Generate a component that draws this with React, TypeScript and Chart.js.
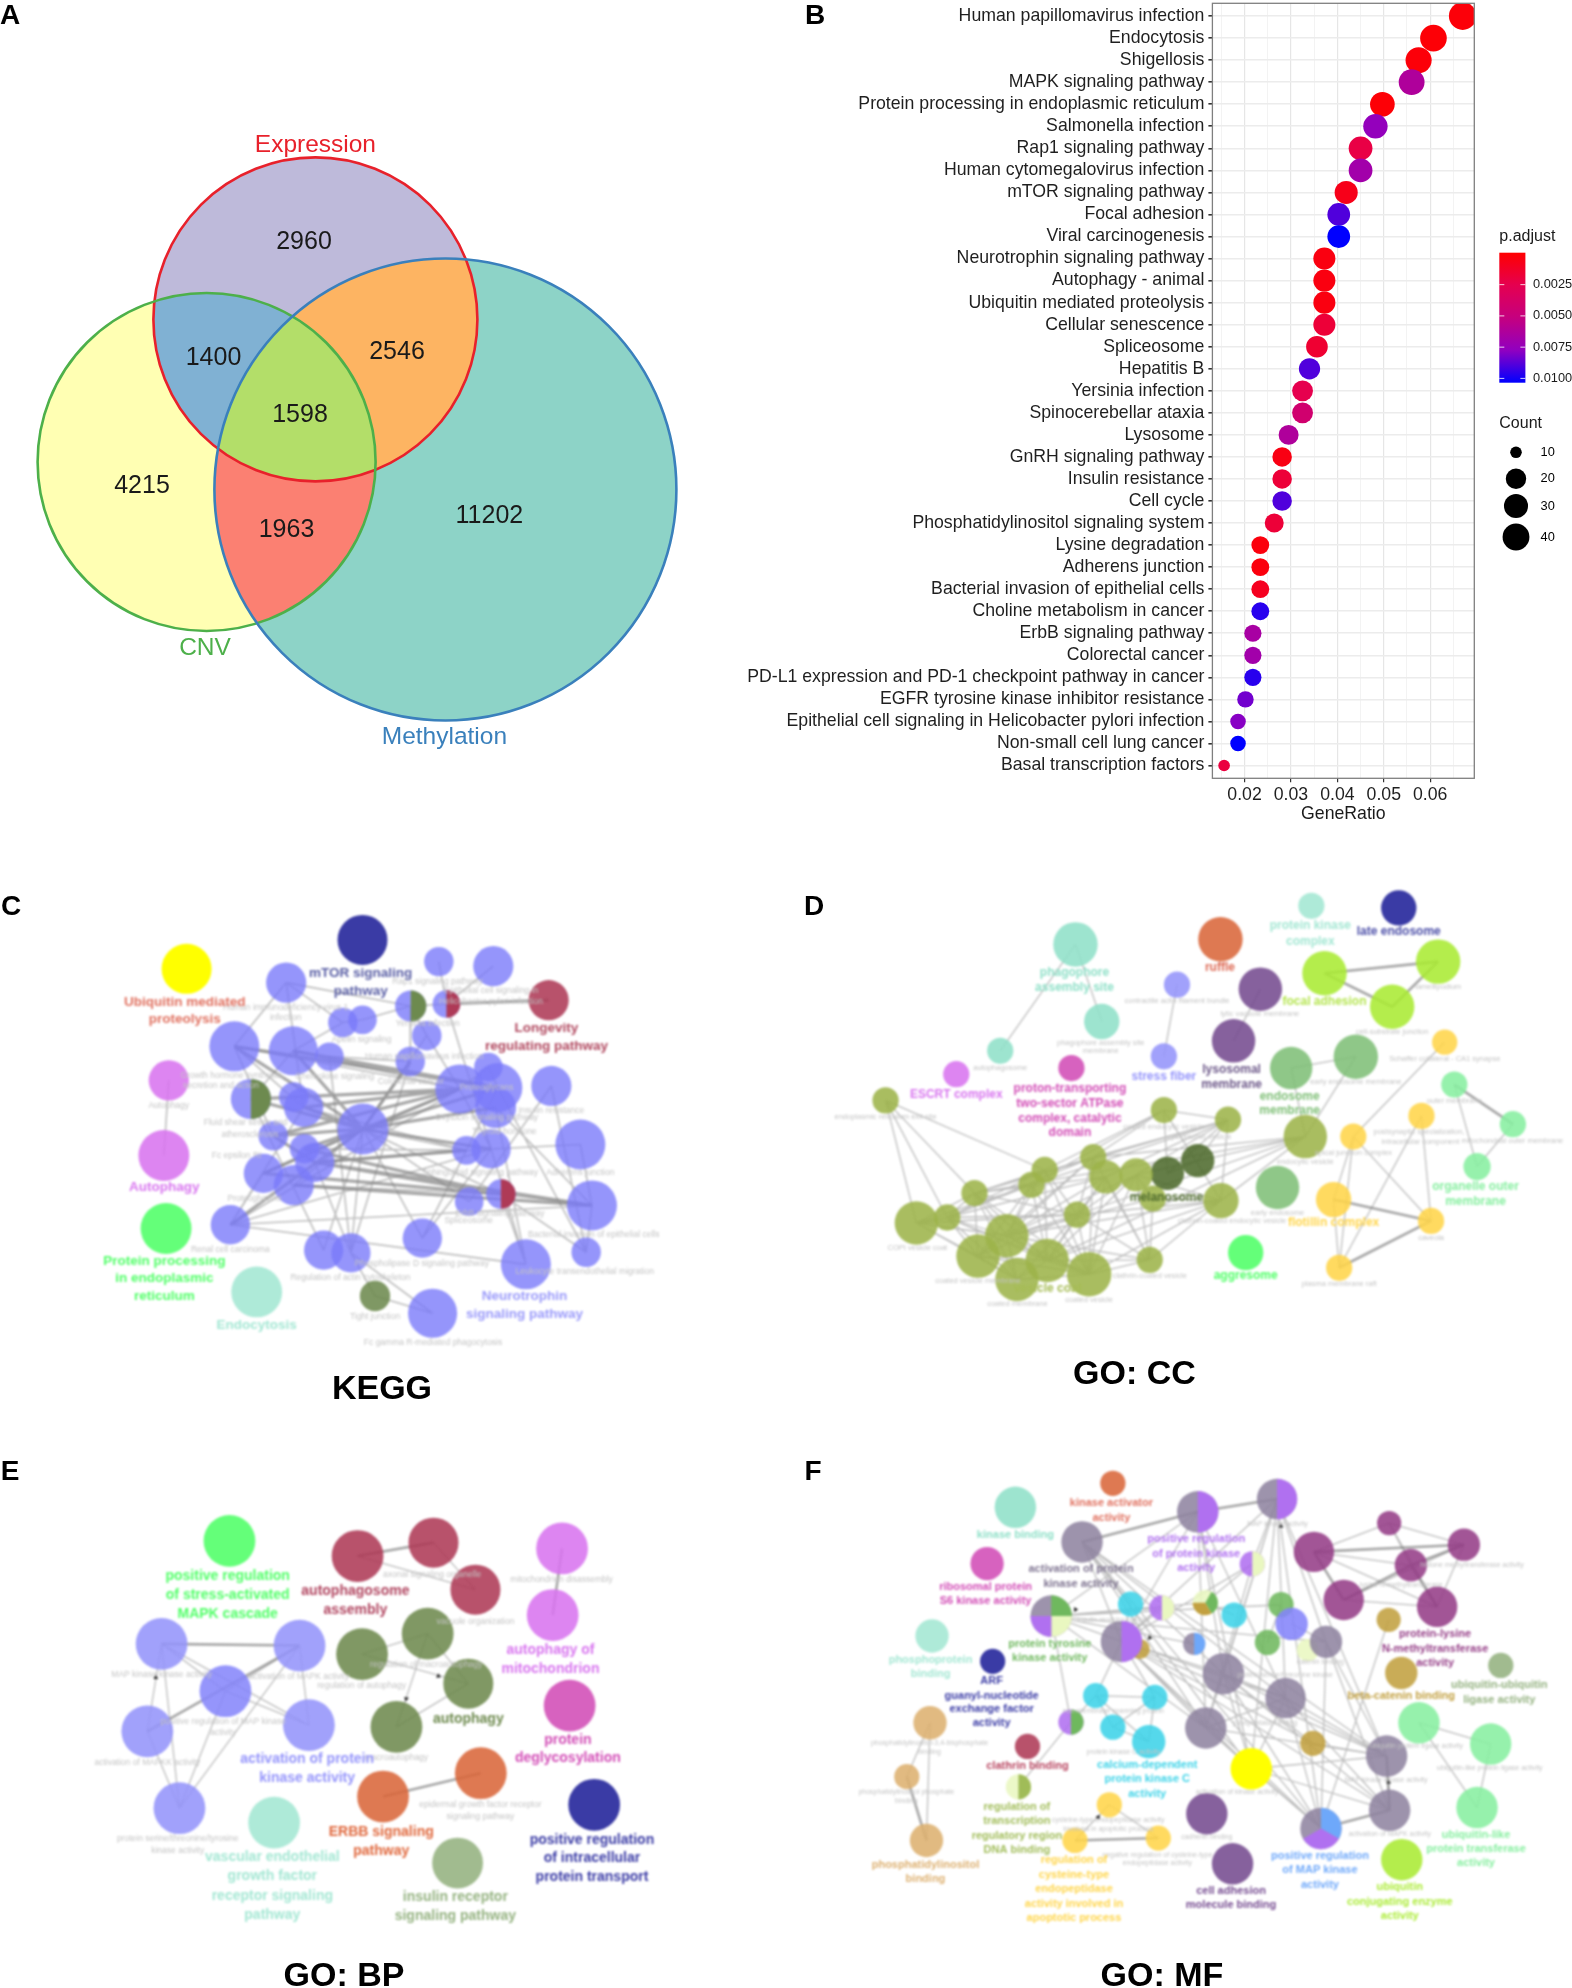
import React, { useEffect, useRef } from "react";
import { Chart, registerables } from "chart.js";

Chart.register(...registerables);

const SANS = '"Liberation Sans", Arial, sans-serif';

/* ---------- Panel A : Venn ---------- */
const vennSets = ["Expression", "CNV", "Methylation"];
const vennX = [315.4, 206.6, 445.4];
const vennY = [319.4, 462, 489.5];
const vennR = [162, 169, 231];
const vennStroke = ["#E8212B", "#4DB04A", "#3A80BC"];
const vennRegionMembers = [[0], [1], [2], [0, 1], [0, 2], [1, 2], [0, 1, 2]];
const vennRegionColors = ["#BEBADA", "#FFFFB3", "#8DD3C7", "#80B1D3", "#FDB462", "#FB8072", "#B3DE69"];
const vennCounts = ["2960", "4215", "11202", "1400", "2546", "1963", "1598"];
const vennCountX = [304, 142, 489.4, 213.5, 397, 286.5, 300];
const vennCountY = [242, 486.5, 516.5, 358.5, 352, 530, 415.5];
const vennNameX = [315.4, 205, 444.4];
const vennNameY = [145, 648, 737.5];

/* ---------- Panel B : dot plot ---------- */
const pathways = [
  "Human papillomavirus infection", "Endocytosis", "Shigellosis", "MAPK signaling pathway",
  "Protein processing in endoplasmic reticulum", "Salmonella infection", "Rap1 signaling pathway",
  "Human cytomegalovirus infection", "mTOR signaling pathway", "Focal adhesion", "Viral carcinogenesis",
  "Neurotrophin signaling pathway", "Autophagy - animal", "Ubiquitin mediated proteolysis",
  "Cellular senescence", "Spliceosome", "Hepatitis B", "Yersinia infection", "Spinocerebellar ataxia",
  "Lysosome", "GnRH signaling pathway", "Insulin resistance", "Cell cycle",
  "Phosphatidylinositol signaling system", "Lysine degradation", "Adherens junction",
  "Bacterial invasion of epithelial cells", "Choline metabolism in cancer", "ErbB signaling pathway",
  "Colorectal cancer", "PD-L1 expression and PD-1 checkpoint pathway in cancer",
  "EGFR tyrosine kinase inhibitor resistance", "Epithelial cell signaling in Helicobacter pylori infection",
  "Non-small cell lung cancer", "Basal transcription factors",
];
const geneRatio = [
  0.067, 0.0607, 0.0575, 0.056, 0.0497, 0.0482, 0.045, 0.045, 0.0419, 0.0403, 0.0403, 0.0372, 0.0372, 0.0372,
  0.0372, 0.0356, 0.034, 0.0325, 0.0325, 0.0295, 0.0281, 0.0281, 0.0281, 0.0264, 0.0234, 0.0234, 0.0234, 0.0234,
  0.0218, 0.0218, 0.0218, 0.0202, 0.0186, 0.0186, 0.0156,
];
const geneCount = [43, 39, 37, 36, 32, 31, 29, 29, 27, 26, 26, 24, 24, 24, 24, 23, 22, 21, 21, 19, 18, 18, 18, 17, 15, 15, 15, 15, 14, 14, 14, 13, 12, 12, 10];
const pAdjust = [
  0.0003, 0.0002, 0.0003, 0.0062, 0.0002, 0.0075, 0.0022, 0.0068, 0.0008, 0.0088, 0.0102, 0.0005, 0.0005, 0.0005,
  0.0018, 0.0016, 0.0088, 0.0025, 0.0042, 0.0062, 0.0006, 0.0018, 0.0088, 0.0018, 0.0004, 0.0004, 0.001, 0.0095,
  0.0065, 0.0068, 0.0095, 0.0082, 0.0078, 0.0102, 0.002,
];
const xMajorTicks = [0.02, 0.03, 0.04, 0.05, 0.06];
const xMinorTicks = [0.015, 0.025, 0.035, 0.045, 0.055, 0.065];
const pLegendTicks = [0.0025, 0.005, 0.0075, 0.01];
const countLegend = [10, 20, 30, 40];
const countLegendY = [452.3, 478.7, 506, 537];
const gradientStops = [[255, 0, 0], [229, 0, 80], [197, 0, 127], [145, 0, 192], [0, 0, 255]];

/* ---------- Network panels : layout units are 0..1568 on both axes ---------- */
type Node = [number, number, number, string];
const P = "#7A7AFA";

const cNodes: Node[] = [
  [418, 258, 56, "#FFFF00"], [812, 174, 56, "#3A3BA5"], [641, 298, 45, P], [983, 237, 33, P], [1105, 250, 45, P],
  [920, 366, 35, P], [1000, 360, 31, P], [1229, 349, 45, "#AE3A57"], [768, 414, 33, P], [812, 406, 32, P],
  [525, 483, 56, P], [657, 496, 55, P], [738, 513, 32, P], [956, 452, 33, P], [919, 527, 33, P],
  [1094, 543, 32, P], [1115, 603, 55, P], [1030, 607, 55, P], [1110, 661, 46, P], [1235, 598, 45, P],
  [378, 582, 45, "#D874EF"], [367, 800, 57, "#D874EF"], [562, 636, 45, P], [658, 630, 33, P], [680, 660, 44, P],
  [612, 743, 33, P], [813, 723, 57, P], [682, 780, 33, P], [705, 820, 44, P], [590, 852, 44, P],
  [658, 886, 45, P], [1045, 785, 32, P], [1100, 781, 44, P], [1300, 768, 56, P], [1122, 912, 33, P],
  [1051, 934, 32, P], [1326, 945, 56, P], [516, 1001, 44, P], [946, 1040, 44, P], [725, 1075, 44, P],
  [786, 1083, 44, P], [1178, 1116, 56, P], [1313, 1081, 33, P], [372, 1012, 57, "#4FFF66"], [575, 1196, 57, "#A3E7D3"],
  [840, 1208, 34, "#6D8A4F"], [969, 1258, 55, P],
];
const cEdgesThin = "20-21 2-5 2-10 2-24 5-14 5-13 5-6 3-6 4-6 10-24 10-25 11-22 13-26 26-38 26-39 26-40 26-34 26-35 26-31 26-30 30-34 37-36 37-17 37-41 37-32 37-29 37-24 38-32 38-16 39-22 40-45 40-28 40-46 45-46 40-14 40-12 33-32 33-36 36-34 36-42 36-18 42-34 42-19 41-34 41-18 38-31 32-17 17-29 28-32 27-31 24-31 11-17 8-11 8-9 9-5 12-14 10-17 15-17 15-16 16-42 19-35 6-32 41-32 2-8 13-17";
const cEdgesThick = "6-7 10-26 11-26 22-26 24-26 25-26 27-26 26-17 26-16 26-18 14-26 28-34 26-32 37-26 29-26 25-28 10-16 11-16 22-17 25-17 24-17 28-31 29-34 28-36 30-36 27-34";
const cPies: [number, number, number, string][] = [
  [5, -90, 90, "#6D8A4F"], [6, -90, 90, "#AE3A57"], [22, -90, 90, "#6D8A4F"], [34, -90, 90, "#AE3A57"],
];
const cBold: [string, number, number, string][] = [
  ["Ubiquitin mediated", 414, 354, "#E0705F"], ["proteolysis", 414, 405, "#E0705F"],
  ["mTOR signaling", 808, 270, "#5A5FA5"], ["pathway", 808, 322, "#5A5FA5"],
  ["Longevity", 1224, 432, "#B0485F"], ["regulating pathway", 1224, 484, "#B0485F"],
  ["Autophagy", 368, 893, "#D874EF"],
  ["Protein processing", 368, 1106, "#4FFF66"], ["in endoplasmic", 368, 1157, "#4FFF66"], ["reticulum", 368, 1208, "#4FFF66"],
  ["Endocytosis", 575, 1292, "#A3E7D3"],
  ["Neurotrophin", 1175, 1210, "#9A9AFA"], ["signaling pathway", 1175, 1262, "#9A9AFA"],
];
const cFaint: [string, number, number][] = [
  ["Rap1 signaling pathway", 980, 296], ["Epithelial cell signaling in", 1100, 322], ["Helicobacter pylori infection", 1100, 352],
  ["Human immunodeficiency virus 1", 640, 370], ["infection", 640, 400], ["Yersinia infection", 958, 418],
  ["Apelin signaling", 810, 465], ["Human papillomavirus infection", 950, 512],
  ["Growth hormone synthesis,", 520, 568], ["secretion and action", 495, 598], ["Chemokine signaling", 750, 570],
  ["Colorectal cancer", 920, 586], ["Proteoglycans", 1090, 602], ["Autophagy", 378, 654], ["Insulin resistance", 1235, 670],
  ["Oxytocin signaling pathway", 1090, 690], ["Fluid shear stress and", 550, 705], ["atherosclerosis", 560, 738],
  ["Fc epsilon RI", 530, 800], ["Thyroid hormone", 1130, 730], ["Adherens junction", 1300, 850], ["Sphingolipid signaling pathway", 1075, 850],
  ["Proteoglycans", 570, 925], ["ErbB signaling pathway", 1120, 970], ["Spliceosome", 1050, 990],
  ["Bacterial invasion of epithelial cells", 1330, 1030], ["Renal cell carcinoma", 516, 1072],
  ["Phospholipase D signaling pathway", 945, 1113], ["Regulation of actin cytoskeleton", 785, 1156],
  ["Leukocyte transendothelial migration", 1310, 1137], ["Tight junction", 840, 1267], ["Fc gamma R-mediated phagocytosis", 970, 1344],
];

const OL = "#9DB44A";
const dNodes: Node[] = [
  [585, 187, 44, "#8FE0C8"], [637, 411, 35, "#8FE0C8"], [436, 496, 26, "#8FE0C8"], [872, 172, 44, "#D9663A"],
  [1052, 75, 26, "#A3E7D3"], [1225, 81, 35, "#3A3BA5"], [786, 304, 26, "#9494FB"], [760, 512, 26, "#9494FB"],
  [951, 317, 43, "#754B90"], [898, 467, 43, "#754B90"], [1078, 271, 44, "#AAEB33"], [1303, 237, 44, "#AAEB33"],
  [1212, 368, 44, "#AAEB33"], [1012, 546, 42, "#7FBF77"], [1140, 513, 44, "#7FBF77"], [985, 893, 43, "#7FBF77"],
  [1316, 471, 25, "#FFD54A"], [1135, 745, 26, "#FFD54A"], [1270, 685, 26, "#FFD54A"], [1096, 928, 35, "#FFD54A"],
  [1289, 990, 26, "#FFD54A"], [1107, 1126, 26, "#FFD54A"], [1335, 594, 26, "#87EFA0"], [1451, 709, 26, "#87EFA0"],
  [1380, 832, 27, "#87EFA0"], [349, 564, 26, "#D874EF"], [577, 546, 26, "#D24CB6"], [209, 640, 26, OL],
  [760, 668, 26, OL], [887, 696, 26, OL], [1040, 745, 43, OL], [767, 852, 33, "#4F6B2E"], [827, 815, 33, "#4F6B2E"],
  [620, 805, 26, OL], [524, 842, 26, OL], [645, 862, 33, OL], [705, 856, 33, OL], [498, 885, 26, OL], [385, 909, 26, OL],
  [738, 925, 26, OL], [873, 931, 35, OL], [588, 972, 26, OL], [331, 980, 26, OL], [270, 996, 43, OL], [449, 1033, 43, OL],
  [392, 1092, 43, OL], [529, 1105, 43, OL], [469, 1160, 43, OL], [612, 1145, 44, OL], [732, 1103, 26, OL],
  [922, 1082, 35, "#4FFF66"],
];
const dEdgesThin = "0-1 0-2 6-7 8-9 13-14 13-30 14-30 16-17 17-19 17-20 17-21 18-20 18-21 19-21 22-24 23-24 27-34 27-38 27-42 27-43 28-29 28-33 28-34 28-37 28-31 28-40 29-33 29-35 29-36 29-37 29-38 29-31 29-32 29-40 30-33 30-36 30-38 30-40 30-41 30-46 33-38 33-42 33-44 33-45 33-48 33-49 34-38 34-42 34-44 34-46 34-48 35-38 35-42 35-44 35-46 35-48 35-49 36-40 36-41 36-44 36-46 36-48 36-49 37-38 37-42 37-43 37-44 37-45 37-46 37-48 38-41 38-42 38-43 38-44 38-45 38-46 38-47 38-48 39-40 39-49 39-44 40-41 40-44 40-46 40-48 40-49 41-42 41-43 41-44 41-45 41-46 41-47 41-48 41-49 42-43 42-44 42-45 42-46 42-47 42-48 43-44 43-45 43-47 44-45 44-46 44-47 44-48 44-49 45-46 45-47 45-48 46-47 46-48 46-49 47-48 48-49 33-41 34-41 35-41 36-39 31-32";
const dEdgesThick = "10-11 10-12 11-12 19-20 20-21 22-23";
const dBold: [string, number, number, string][] = [
  ["phagophore", 583, 269, "#8FE0C8"], ["assembly site", 583, 313, "#8FE0C8"], ["ruffle", 871, 255, "#DD6A55"],
  ["protein kinase", 1050, 134, "#A3E7D3"], ["complex", 1050, 178, "#A3E7D3"], ["late endosome", 1225, 150, "#4C4FA8"],
  ["focal adhesion", 1078, 353, "#B5E550"], ["lysosomal", 894, 550, "#6E5A8A"], ["membrane", 894, 595, "#6E5A8A"],
  ["stress fiber", 760, 571, "#9494FB"], ["ESCRT complex", 349, 623, "#D874EF"],
  ["proton-transporting", 574, 606, "#D24CB6"], ["two-sector ATPase", 574, 649, "#D24CB6"],
  ["complex, catalytic", 574, 692, "#D24CB6"], ["domain", 574, 735, "#D24CB6"],
  ["endosome", 1009, 628, "#7FBF77"], ["membrane", 1009, 671, "#7FBF77"],
  ["organelle outer", 1377, 891, "#87EFA0"], ["membrane", 1377, 933, "#87EFA0"],
  ["flotillin complex", 1096, 996, "#FFD54A"], ["aggresome", 922, 1150, "#4FFF66"],
  ["vesicle coat", 530, 1188, "#A6BC55"], ["melanosome", 765, 923, "#4F6B2E"],
];
const dFaint: [string, number, number][] = [
  ["autophagosome", 436, 545], ["phagophore assembly site", 635, 472], ["membrane", 635, 497],
  ["contractile actin filament bundle", 786, 352], ["lytic vacuole membrane", 950, 389], ["cell-substrate junction", 1212, 441],
  ["lamellipodium", 1303, 310], ["Schaffer collateral - CA1 synapse", 1316, 520], ["early endosome membrane", 1140, 586],
  ["outer membrane", 1335, 642], ["mitochondrial outer membrane", 1450, 758], ["postsynaptic specialization,", 1265, 733],
  ["intracellular component", 1268, 760], ["endoplasmic reticulum exit site", 209, 689], ["apical junction complex", 1135, 793],
  ["endocytic vesicle", 1040, 818], ["clathrin-coated endocytic vesicle", 895, 990], ["early endosome", 985, 967],
  ["caveola", 1289, 1040], ["plasma membrane raft", 1107, 1173], ["coated vesicle membrane", 392, 1164],
  ["coated membrane", 470, 1230], ["coated vesicle", 612, 1218], ["clathrin-coated vesicle", 732, 1151],
  ["COPI vesicle coat", 272, 1068], ["coated endocytic vesicle", 760, 718], ["cytoplasmic vesicle", 830, 745],
];

const eNodes: Node[] = [
  [514, 265, 58, "#4FFF66"], [801, 309, 58, "#AE3A57"], [971, 270, 56, "#AE3A57"], [1065, 407, 56, "#AE3A57"],
  [1259, 287, 58, "#D874EF"], [1238, 481, 58, "#D874EF"], [362, 565, 58, "#9494FB"], [671, 570, 58, "#9494FB"],
  [505, 703, 58, "#8686FA"], [330, 820, 58, "#9494FB"], [692, 802, 58, "#9494FB"], [402, 1044, 58, "#9494FB"],
  [811, 595, 58, "#6E8A4F"], [958, 535, 58, "#6E8A4F"], [1049, 681, 56, "#6E8A4F"], [888, 807, 58, "#6E8A4F"],
  [1276, 745, 58, "#D24CB6"], [1077, 942, 58, "#D9663A"], [858, 1010, 58, "#D9663A"], [1331, 1034, 58, "#3A3BA5"],
  [614, 1086, 58, "#A3E7D3"], [1025, 1204, 57, "#94B280"],
];
const eEdgesThin = "1-3 2-3 6-8 6-10 6-9 6-11 7-8 7-11 8-10 8-11 9-11 12-14 13-15 13-14 12-13 14-15 7-10";
const eEdgesThick = "1-2 4-5 6-7 7-9 17-18";
const eArrowX = [349, 982, 910];
const eArrowY = [663, 659, 725];
const eArrowAngle = [0, 115, 190];
const eBold: [string, number, number, string][] = [
  ["positive regulation", 510, 368, "#4FFF66"], ["of stress-activated", 510, 423, "#4FFF66"], ["MAPK cascade", 510, 478, "#4FFF66"],
  ["autophagosome", 796, 411, "#B0445F"], ["assembly", 796, 467, "#B0445F"],
  ["autophagy of", 1233, 584, "#D874EF"], ["mitochondrion", 1233, 639, "#D874EF"], ["autophagy", 1049, 783, "#6E8A4F"],
  ["protein", 1272, 845, "#D24CB6"], ["deglycosylation", 1272, 899, "#D24CB6"],
  ["activation of protein", 688, 902, "#9494FB"], ["kinase activity", 688, 957, "#9494FB"],
  ["ERBB signaling", 854, 1113, "#E0683D"], ["pathway", 854, 1168, "#E0683D"],
  ["positive regulation", 1326, 1138, "#3A3BA5"], ["of intracellular", 1326, 1190, "#3A3BA5"], ["protein transport", 1326, 1246, "#3A3BA5"],
  ["vascular endothelial", 610, 1188, "#A3E7D3"], ["growth factor", 610, 1243, "#A3E7D3"], ["receptor signaling", 610, 1299, "#A3E7D3"], ["pathway", 610, 1355, "#A3E7D3"],
  ["insulin receptor", 1020, 1304, "#94B280"], ["signaling pathway", 1020, 1360, "#94B280"],
];
const eFaint: [string, number, number][] = [
  ["mitochondrion disassembly", 1258, 379], ["axonal signaling organelle", 968, 362], ["vacuole organization", 1065, 499],
  ["MAP kinase kinase activity", 362, 655], ["activation of MAPK activity", 670, 662], ["regulation of autophagy", 810, 688],
  ["regulation of macroautophagy", 955, 625], ["positive regulation of MAP kinase", 500, 792], ["activity", 500, 825],
  ["macroautophagy", 888, 897], ["activation of MAPKK activity", 330, 911],
  ["epidermal growth factor receptor", 1076, 1034], ["signaling pathway", 1076, 1068],
  ["protein serine/threonine/tyrosine", 398, 1133], ["kinase activity", 398, 1167],
];

const GR = "#8F84A0";
const PL = "#953E87";
const CY = "#3DD3E8";
const fNodes: Node[] = [
  [466, 167, 41, "#8FE0C8"], [659, 97, 25, "#D9663A"], [410, 331, 33, "#D24CB6"], [301, 542, 33, "#A3E7D3"], [421, 616, 25, "#3A3BA5"],
  [827, 180, 41, GR], [984, 143, 40, GR], [598, 268, 41, GR], [935, 332, 25, "#B070F0"], [1057, 297, 40, PL],
  [1206, 213, 24, PL], [1354, 276, 32, PL], [1249, 336, 32, PL], [1116, 437, 40, PL], [1301, 457, 40, PL],
  [1205, 495, 24, "#C2A040"], [537, 484, 41, GR], [694, 449, 25, CY], [756, 460, 25, "#B070F0"], [842, 445, 25, "#E9F7C0"],
  [899, 481, 25, CY], [992, 451, 25, "#6FB85E"], [1013, 507, 32, "#8484FB"], [712, 580, 20, "#C2A040"], [676, 558, 41, GR],
  [820, 565, 22, GR], [965, 561, 25, "#6FB85E"], [1045, 583, 22, "#E9F7C0"], [1081, 559, 32, GR], [878, 652, 41, GR],
  [1001, 723, 40, GR], [1230, 650, 32, "#C2A040"], [1427, 628, 25, "#94B280"], [625, 716, 25, CY], [742, 721, 25, CY],
  [659, 808, 25, CY], [730, 850, 33, CY], [576, 793, 25, "#B070F0"], [297, 795, 33, "#DDB070"], [251, 952, 25, "#DDB070"],
  [290, 1138, 33, "#DDB070"], [490, 864, 25, "#AE3A57"], [472, 982, 25, "#E9F7C0"], [843, 810, 41, GR], [1055, 855, 25, "#C2A040"],
  [933, 929, 41, "#FFFF00"], [1201, 892, 41, GR], [1265, 795, 41, "#87EFA0"], [1407, 857, 41, "#87EFA0"], [1380, 1042, 41, "#87EFA0"],
  [1207, 1050, 41, GR], [1071, 1103, 41, GR], [845, 1060, 41, "#754B90"], [896, 1206, 41, "#754B90"], [1231, 1194, 41, "#AAEB33"],
  [652, 1034, 25, "#FFD54A"], [584, 1138, 25, "#FFD54A"], [749, 1131, 25, "#FFD54A"],
];
const fEdgesThin = "7-24 7-29 7-43 7-30 7-45 7-46 7-17 7-51 5-16 5-24 5-29 5-30 5-43 5-45 6-24 6-29 6-30 6-43 6-45 6-28 6-51 6-46 6-8 24-45 24-51 24-29 24-43 24-30 24-46 24-50 29-30 29-43 29-45 29-46 29-50 29-51 30-43 30-45 30-46 30-50 30-51 43-45 43-46 43-51 45-46 45-51 45-50 46-50 28-51 28-46 28-50 16-24 16-18 16-43 16-28 37-16 37-42 18-24 17-24 19-16 19-20 8-24 8-19 8-43 33-34 33-35 33-36 34-35 34-36 35-36 33-24 34-24 10-9 10-11 10-12 10-14 9-12 9-14 11-13 11-14 13-14 38-39 38-40 47-48 47-49 48-49 55-56 55-57 15-51 44-24 44-29 44-46 22-28 21-26 16-21 16-25 37-33 42-37";
const fEdgesThick = "5-7 5-6 50-51 46-50 9-11 9-13 11-12 12-13 12-14 39-40 56-57";
const fPies: [number, number, number, string][] = [
  [5, -90, 90, "#B070F0"], [6, -90, 90, "#B070F0"], [8, -90, 90, "#E9F7C0"], [16, -90, 0, "#6FB85E"], [16, 0, 90, "#E9F7C0"], [16, 90, 180, "#B070F0"],
  [18, -90, 90, "#E9F7C0"], [19, -60, 60, "#6FB85E"], [19, 60, 180, "#C2A040"], [24, -90, 90, "#B070F0"], [25, -90, 90, "#6EA8FA"],
  [37, -90, 90, "#6FB85E"], [42, -90, 90, "#A0BC58"], [51, -90, 30, "#6EA8FA"], [51, 30, 150, "#B070F0"],
];
const fBold: [string, number, number, string][] = [
  ["kinase binding", 466, 248, "#8FE0C8"], ["kinase activator", 656, 155, "#E0705F"], ["activity", 656, 198, "#E0705F"],
  ["ribosomal protein", 407, 400, "#D24CB6"], ["S6 kinase activity", 407, 441, "#D24CB6"],
  ["phosphoprotein", 298, 611, "#A3E7D3"], ["binding", 298, 653, "#A3E7D3"],
  ["ARF", 419, 672, "#3A3BA5"], ["guanyl-nucleotide", 419, 716, "#3A3BA5"], ["exchange factor", 419, 754, "#3A3BA5"], ["activity", 419, 796, "#3A3BA5"],
  ["activation of protein", 596, 348, "#7E7390"], ["kinase activity", 596, 390, "#7E7390"],
  ["positive regulation", 824, 260, "#B070F0"], ["of protein kinase", 824, 302, "#B070F0"], ["activity", 824, 344, "#B070F0"],
  ["protein tyrosine", 534, 564, "#6FB85E"], ["kinase activity", 534, 606, "#6FB85E"],
  ["protein-lysine", 1297, 537, "#953E87"], ["N-methyltransferase", 1297, 579, "#953E87"], ["activity", 1297, 621, "#953E87"],
  ["ubiquitin-ubiquitin", 1424, 686, "#94B280"], ["ligase activity", 1424, 728, "#94B280"], ["beta-catenin binding", 1230, 718, "#C2A040"],
  ["clathrin binding", 490, 922, "#B84560"], ["calcium-dependent", 727, 918, CY], ["protein kinase C", 727, 960, CY], ["activity", 727, 1002, CY],
  ["regulation of", 469, 1040, "#A0BC58"], ["transcription", 469, 1081, "#A0BC58"], ["regulatory region", 469, 1124, "#A0BC58"], ["DNA binding", 469, 1165, "#A0BC58"],
  ["phosphatidylinositol", 288, 1208, "#DDB070"], ["binding", 288, 1250, "#DDB070"],
  ["regulation of", 582, 1196, "#FFD54A"], ["cysteine-type", 582, 1238, "#FFD54A"], ["endopeptidase", 582, 1280, "#FFD54A"], ["activity involved in", 582, 1322, "#FFD54A"], ["apoptotic process", 582, 1364, "#FFD54A"],
  ["cell adhesion", 893, 1285, "#754B90"], ["molecule binding", 893, 1327, "#754B90"],
  ["positive regulation", 1069, 1182, "#6EA8FA"], ["of MAP kinase", 1069, 1224, "#6EA8FA"], ["activity", 1069, 1267, "#6EA8FA"],
  ["ubiquitin", 1227, 1275, "#AAEB33"], ["conjugating enzyme", 1227, 1318, "#AAEB33"], ["activity", 1227, 1359, "#AAEB33"],
  ["ubiquitin-like", 1378, 1121, "#87EFA0"], ["protein transferase", 1378, 1163, "#87EFA0"], ["activity", 1378, 1205, "#87EFA0"],
];
const fFaint: [string, number, number][] = [
  ["phosphatidylinositol-3,4-bisphosphate", 296, 855], ["binding", 296, 880], ["phosphatidylinositol phosphate", 250, 998], ["binding", 250, 1024],
  ["cysteine-type endopeptidase activity", 650, 1080], ["involved in apoptotic process", 650, 1105],
  ["negative regulation of cysteine-type", 747, 1180], ["endopeptidase activity", 747, 1204], ["cadherin binding", 845, 1128],
  ["activation of MAPK activity", 1207, 1120], ["MAP kinase activity", 985, 215], ["histone methyltransferase activity", 1370, 336],
  ["ubiquitin-like protein ligase activity", 1405, 928], ["ubiquitin protein ligase activity", 1260, 862], ["MAP kinase kinase activity", 1200, 963],
  ["activation of kinase activity", 905, 997], ["insulin receptor binding", 660, 495], ["non-membrane spanning protein", 660, 760],
  ["protein kinase C activity", 680, 880], ["lysine N-methyltransferase", 1230, 395], ["catenin binding", 1070, 618],
  ["phosphatase binding", 960, 795], ["protein serine/threonine kinase", 1000, 655],
];

const arrowF = { x: [585, 992, 732, 1205, 630], y: [465, 222, 547, 968, 1070], a: [90, 0, 225, 0, 35] };

/* ---------- helpers ---------- */
const edgePoints = (nodes: Node[], list: string) => {
  const pts: { x: number; y: number }[] = [];
  list.split(" ").forEach((pair) => {
    const [a, b] = pair.split("-").map(Number);
    pts.push({ x: nodes[a][0], y: nodes[a][1] }, { x: nodes[b][0], y: nodes[b][1] }, { x: NaN, y: NaN });
  });
  return pts;
};

const lerpColor = (t: number) => {
  const c = Math.max(0, Math.min(1, t)) * (gradientStops.length - 1);
  const i = Math.min(gradientStops.length - 2, Math.floor(c));
  const f = c - i;
  const m = gradientStops[i].map((v, k) => Math.round(v + (gradientStops[i + 1][k] - v) * f));
  return `rgb(${m[0]},${m[1]},${m[2]})`;
};
const pColor = (p: number) => lerpColor(p / 0.0102);
const countRadius = (c: number) => 5.8 + 8 * Math.sqrt((c - 10) / 33);

function withAlpha(hex: string, a: number) {
  const n = parseInt(hex.slice(1), 16);
  return `rgba(${(n >> 16) & 255},${(n >> 8) & 255},${n & 255},${a})`;
}

const noAutoLayout = { autoPadding: false, padding: 0 };

/* ---------- chart configs ---------- */
function vennConfig() {
  const regionPlugin = {
    id: "vennRegions",
    beforeDatasetsDraw(chart: any) {
      const { ctx } = chart;
      const els = chart.getDatasetMeta(0).data;
      vennRegionMembers.forEach((members, i) => {
        ctx.save();
        for (let k = 0; k < members.length - 1; k++) {
          const e = els[members[k]];
          ctx.beginPath();
          ctx.arc(e.x, e.y, e.options.radius, 0, Math.PI * 2);
          ctx.clip();
        }
        const e = els[members[members.length - 1]];
        ctx.beginPath();
        ctx.arc(e.x, e.y, e.options.radius, 0, Math.PI * 2);
        ctx.fillStyle = vennRegionColors[i];
        ctx.fill();
        ctx.restore();
      });
    },
    afterDatasetsDraw(chart: any) {
      const { ctx, scales } = chart;
      ctx.save();
      ctx.textAlign = "center";
      ctx.textBaseline = "middle";
      ctx.fillStyle = "#1a1a1a";
      ctx.font = `25px ${SANS}`;
      vennCounts.forEach((t, i) => {
        ctx.fillText(t, scales.x.getPixelForValue(vennCountX[i]), scales.y.getPixelForValue(vennCountY[i]));
      });
      ctx.font = `24.5px ${SANS}`;
      vennSets.forEach((t, i) => {
        ctx.fillStyle = vennStroke[i];
        ctx.fillText(t, scales.x.getPixelForValue(vennNameX[i]), scales.y.getPixelForValue(vennNameY[i]));
      });
      ctx.restore();
    },
  };
  return {
    type: "bubble",
    data: {
      datasets: [
        {
          data: vennX.map((x, i) => ({ x, y: vennY[i], r: vennR[i] })),
          backgroundColor: "rgba(0,0,0,0)",
          borderColor: vennStroke,
          borderWidth: 2.6,
          clip: false,
        },
      ],
    },
    options: {
      animation: false,
      responsive: false,
      layout: noAutoLayout,
      plugins: { legend: { display: false }, tooltip: { enabled: false } },
      scales: {
        x: { type: "linear", min: 0, max: 720, display: false },
        y: { type: "linear", min: 0, max: 800, reverse: true, display: false },
      },
    },
    plugins: [regionPlugin],
  };
}

function dotConfig() {
  const isMajor = (v: number) => xMajorTicks.some((m) => Math.abs(m - v) < 1e-6);
  const legendPlugin = {
    id: "dotLegend",
    afterDatasetsDraw(chart: any) {
      const { ctx, chartArea: a } = chart;
      ctx.save();
      ctx.strokeStyle = "#7f7f7f";
      ctx.lineWidth = 1.3;
      ctx.strokeRect(a.left, a.top, a.right - a.left, a.bottom - a.top);
      const ox = 720;
      // colour bar
      const left = 1499.3 - ox, w = 26.1, top = 252.7, h = 130;
      const g = ctx.createLinearGradient(0, top, 0, top + h);
      gradientStops.forEach((_, i) => g.addColorStop(i / (gradientStops.length - 1), lerpColor(i / (gradientStops.length - 1))));
      ctx.fillStyle = g;
      ctx.fillRect(left, top, w, h);
      ctx.textAlign = "left";
      ctx.textBaseline = "middle";
      ctx.fillStyle = "#1a1a1a";
      ctx.font = `16px ${SANS}`;
      ctx.fillText("p.adjust", left, 237);
      ctx.fillText("Count", left, 424);
      ctx.font = `12.8px ${SANS}`;
      pLegendTicks.forEach((p) => {
        const y = top + (p / 0.0104) * h + 0.7;
        ctx.strokeStyle = "rgba(255,255,255,.8)";
        ctx.lineWidth = 1;
        ctx.beginPath();
        ctx.moveTo(left, y);
        ctx.lineTo(left + 5, y);
        ctx.moveTo(left + w - 5, y);
        ctx.lineTo(left + w, y);
        ctx.stroke();
        ctx.fillStyle = "#1a1a1a";
        ctx.fillText(p.toFixed(4), 1533 - ox, y);
      });
      countLegend.forEach((c, i) => {
        ctx.fillStyle = "#000";
        ctx.beginPath();
        ctx.arc(1516 - ox, countLegendY[i], countRadius(c), 0, Math.PI * 2);
        ctx.fill();
        ctx.fillText(String(c), 1540.6 - ox, countLegendY[i]);
      });
      ctx.restore();
    },
  };
  return {
    type: "bubble",
    data: {
      datasets: [
        {
          data: geneRatio.map((x, i) => ({ x, y: i, r: countRadius(geneCount[i]) })),
          backgroundColor: (c: any) => pColor(pAdjust[c.dataIndex]),
          borderWidth: 0,
          hoverBorderWidth: 0,
        },
      ],
    },
    options: {
      animation: false,
      responsive: false,
      layout: { autoPadding: false, padding: { top: 3.3, right: 97.7, left: 0, bottom: 0 } },
      plugins: { legend: { display: false }, tooltip: { enabled: false } },
      scales: {
        x: {
          type: "linear",
          min: 0.01308,
          max: 0.0695,
          afterBuildTicks: (s: any) => {
            s.ticks = [...xMajorTicks, ...xMinorTicks].sort((a, b) => a - b).map((value) => ({ value }));
          },
          afterFit: (s: any) => {
            s.height = 61.7;
            s.paddingLeft = 0;
            s.paddingRight = 0;
          },
          grid: {
            color: (c: any) => (isMajor(c.tick.value) ? "#e6e6e6" : "#f0f0f0"),
            lineWidth: (c: any) => (isMajor(c.tick.value) ? 1.2 : 0.8),
            tickColor: (c: any) => (isMajor(c.tick.value) ? "#333" : "rgba(0,0,0,0)"),
            tickLength: 4,
          },
          border: { display: false },
          ticks: {
            autoSkip: false,
            maxRotation: 0,
            padding: 2,
            color: "#1f1f1f",
            font: { family: SANS, size: 17.7 },
            callback: (v: number) => (isMajor(v) ? v.toFixed(2) : ""),
          },
          title: {
            display: true,
            text: "GeneRatio",
            color: "#1a1a1a",
            font: { family: SANS, size: 17.7 },
            padding: { top: 0, bottom: 15 },
          },
        },
        y: {
          type: "linear",
          min: -0.58,
          max: 34.58,
          reverse: true,
          afterBuildTicks: (s: any) => {
            s.ticks = pathways.map((_, value) => ({ value }));
          },
          afterFit: (s: any) => {
            s.width = 492.4;
            s.paddingTop = 0;
            s.paddingBottom = 0;
          },
          grid: { color: "#ececec", lineWidth: 1.6, tickColor: "#333", tickLength: 4 },
          border: { display: false },
          ticks: {
            autoSkip: false,
            padding: 4,
            color: "#1f1f1f",
            font: { family: SANS, size: 17.7 },
            callback: (v: number) => pathways[v],
          },
        },
      },
    },
    plugins: [legendPlugin],
  };
}

function netConfig(spec: any) {
  const { nodes, thin, thick, pies = [], bold, faint, boldSize, pxPerUnit, arrows, faintSize = 8.5, thickWidth = 2.6, thinWidth = 1.3 } = spec;
  const labelPlugin = {
    id: "netLabels",
    afterDatasetsDraw(chart: any) {
      const { ctx, scales } = chart;
      const nodeMeta = chart.getDatasetMeta(0);
      ctx.save();
      pies.forEach(([idx, a0, a1, color]: [number, number, number, string]) => {
        const e = nodeMeta.data[idx];
        ctx.beginPath();
        ctx.moveTo(e.x, e.y);
        ctx.arc(e.x, e.y, e.options.radius, (a0 * Math.PI) / 180, (a1 * Math.PI) / 180);
        ctx.closePath();
        ctx.fillStyle = color;
        ctx.fill();
      });
      ctx.textAlign = "center";
      ctx.textBaseline = "middle";
      ctx.font = `${faintSize}px ${SANS}`;
      ctx.fillStyle = "#c4c4c4";
      faint.forEach(([t, x, y]: [string, number, number]) => {
        ctx.fillText(t, scales.x.getPixelForValue(x), scales.y.getPixelForValue(y));
      });
      ctx.font = `bold ${boldSize}px ${SANS}`;
      bold.forEach(([t, x, y, color]: [string, number, number, string]) => {
        ctx.fillStyle = color;
        ctx.fillText(t, scales.x.getPixelForValue(x), scales.y.getPixelForValue(y));
      });
      ctx.restore();
    },
  };
  const edgeStyle = {
    type: "line",
    showLine: true,
    spanGaps: false,
    pointRadius: 0,
    fill: false,
    tension: 0,
    order: 2,
    clip: false,
  };
  const datasets: any[] = [
    {
      data: nodes.map((n: Node) => ({ x: n[0], y: n[1], r: n[2] * pxPerUnit })),
      backgroundColor: (c: any) => {
        const col = nodes[c.dataIndex][3];
        if (col === P) return withAlpha(col, 0.8);
        return col === "#FFFF00" || col === "#3A3BA5" ? col : withAlpha(col, 0.88);
      },
      borderWidth: 0,
      hoverBorderWidth: 0,
      order: 1,
      clip: false,
    },
    { ...edgeStyle, data: edgePoints(nodes, thin), borderColor: "rgba(125,125,125,.5)", borderWidth: thinWidth },
    { ...edgeStyle, data: edgePoints(nodes, thick), borderColor: "rgba(120,120,120,.65)", borderWidth: thickWidth },
  ];
  if (arrows) {
    datasets.push({
      type: "scatter",
      data: arrows.x.map((x: number, i: number) => ({ x, y: arrows.y[i] })),
      pointStyle: "triangle",
      pointRadius: 2.8,
      pointRotation: arrows.a,
      backgroundColor: "#222",
      borderWidth: 0,
      order: 0,
    });
  }
  return {
    type: "bubble",
    data: { datasets },
    options: {
      animation: false,
      responsive: false,
      layout: noAutoLayout,
      plugins: { legend: { display: false }, tooltip: { enabled: false } },
      scales: {
        x: { type: "linear", min: 0, max: 1568, display: false },
        y: { type: "linear", min: 0, max: 1568, reverse: true, display: false },
      },
    },
    plugins: [labelPlugin],
  };
}

/* ---------- components ---------- */
function ChartCanvas({ left, top, width, height, blur, make }: any) {
  const ref = useRef<HTMLCanvasElement>(null);
  useEffect(() => {
    const chart = new Chart(ref.current as HTMLCanvasElement, make());
    return () => chart.destroy();
  }, []);
  return (
    <canvas
      ref={ref}
      width={width}
      height={height}
      style={{ position: "absolute", left, top, width, height, filter: blur ? `blur(${blur}px)` : undefined }}
    />
  );
}

const panelLetters: [string, number, number][] = [
  ["A", 10, 15], ["B", 815, 15], ["C", 11, 906], ["D", 814, 906], ["E", 10, 1471], ["F", 813, 1471],
];
const panelTitles: [string, number, number][] = [
  ["KEGG", 382, 1387], ["GO: CC", 1134.5, 1372], ["GO: BP", 344, 1974], ["GO: MF", 1162, 1974],
];

export default function App() {
  const textStyle = (x: number, y: number, size: number): React.CSSProperties => ({
    position: "absolute",
    left: x,
    top: y,
    transform: "translate(-50%,-50%)",
    font: `bold ${size}px ${SANS}`,
    lineHeight: 1,
    color: "#000",
    whiteSpace: "nowrap",
  });
  return (
    <div style={{ position: "absolute", left: 0, top: 0, width: 1572, height: 1988, overflow: "hidden", background: "#fff" }}>
      <ChartCanvas left={0} top={0} width={720} height={800} blur={0.3} make={vennConfig} />
      <ChartCanvas left={720} top={0} width={852} height={840} blur={0.45} make={dotConfig} />
      <ChartCanvas
        left={0} top={880} width={700} height={540} blur={0.8}
        make={() => netConfig({ nodes: cNodes, thin: cEdgesThin, thick: cEdgesThick, pies: cPies, bold: cBold, faint: cFaint, boldSize: 13.5, pxPerUnit: 700 / 1568, thickWidth: 3.2, thinWidth: 1.6 })}
      />
      <ChartCanvas
        left={780} top={880} width={792} height={540} blur={0.8}
        make={() => netConfig({ nodes: dNodes, thin: dEdgesThin, thick: dEdgesThick, bold: dBold, faint: dFaint, boldSize: 12, pxPerUnit: 792 / 1568, faintSize: 7.5 })}
      />
      <ChartCanvas
        left={0} top={1450} width={700} height={538} blur={0.8}
        make={() => netConfig({ nodes: eNodes, thin: eEdgesThin, thick: eEdgesThick, bold: eBold, faint: eFaint, boldSize: 14, pxPerUnit: 700 / 1568, arrows: { x: eArrowX, y: eArrowY, a: eArrowAngle } })}
      />
      <ChartCanvas
        left={780} top={1450} width={792} height={538} blur={0.8}
        make={() => netConfig({ nodes: fNodes, thin: fEdgesThin, thick: fEdgesThick, pies: fPies, bold: fBold, faint: fFaint, boldSize: 11, pxPerUnit: 792 / 1568, faintSize: 7, arrows: arrowF })}
      />
      {panelLetters.map(([t, x, y]) => (
        <div key={t} style={textStyle(x, y, 28)}>{t}</div>
      ))}
      {panelTitles.map(([t, x, y]) => (
        <div key={t} style={textStyle(x, y, 34)}>{t}</div>
      ))}
    </div>
  );
}
